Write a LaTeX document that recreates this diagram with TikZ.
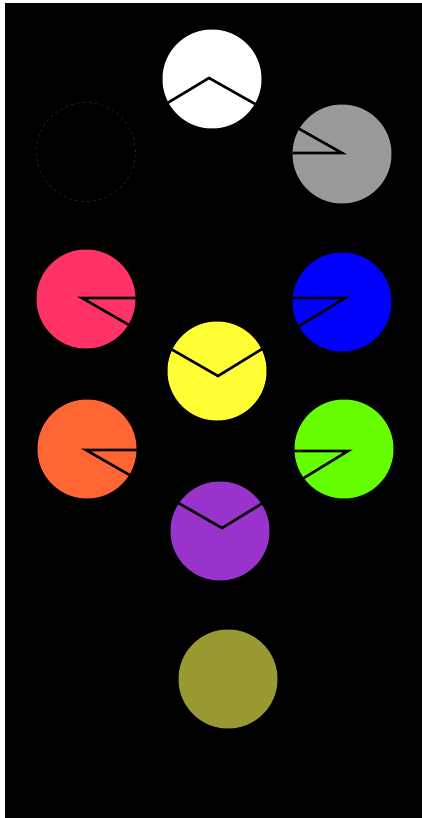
\documentclass[tikz,border=0pt]{standalone}
\begin{document}
\begin{tikzpicture}[x=1pt,y=-1pt,
  ball/.style={circle,minimum size=99pt,inner sep=0pt,outer sep=0pt},
  link/.style={line width=2.6pt,black,line join=miter}]
\useasboundingbox (0,0) rectangle (422,818);
\fill[white] (0,0) rectangle (422,818);
\fill[black] (5,3) rectangle (422,818);
\node[ball,draw=black!85!white,dashed,line width=0.6pt,fill=black] (k) at (86,152) {};
\node[ball,fill=white] (w) at (212,79) {};
\node[ball,fill={rgb,255:red,153;green,153;blue,153}] (g) at (342,154) {};
\node[ball,fill={rgb,255:red,255;green,51;blue,102}] (p) at (86,299) {};
\node[ball,fill={rgb,255:red,0;green,0;blue,255}] (b) at (342,302) {};
\node[ball,fill={rgb,255:red,255;green,255;blue,51}] (y) at (217,371) {};
\node[ball,fill={rgb,255:red,255;green,102;blue,51}] (o) at (87,449) {};
\node[ball,fill={rgb,255:red,102;green,255;blue,0}] (gr) at (344,449) {};
\node[ball,fill={rgb,255:red,153;green,51;blue,204}] (pu) at (220,531) {};
\node[ball,fill={rgb,255:red,153;green,153;blue,51}] (ol) at (228,679) {};
\coordinate (wa) at (209,78);
\coordinate (ya) at (218,376);
\coordinate (pa) at (222,528);
\coordinate (ga) at (342,153);
\coordinate (pc) at (82,298);
\coordinate (bc) at (345,298);
\coordinate (oc) at (86,450);
\coordinate (grc) at (348,451);
\draw[link] (k.center) -- (wa) -- (ga) -- (g.west |- ga);
\draw[link] (p.east |- pc) -- (pc) -- (ya) -- (bc) -- (b.west |- bc);
\draw[link] (o.east |- oc) -- (oc) -- (pa) -- (grc) -- (gr.west |- grc);
\end{tikzpicture}
\end{document}
